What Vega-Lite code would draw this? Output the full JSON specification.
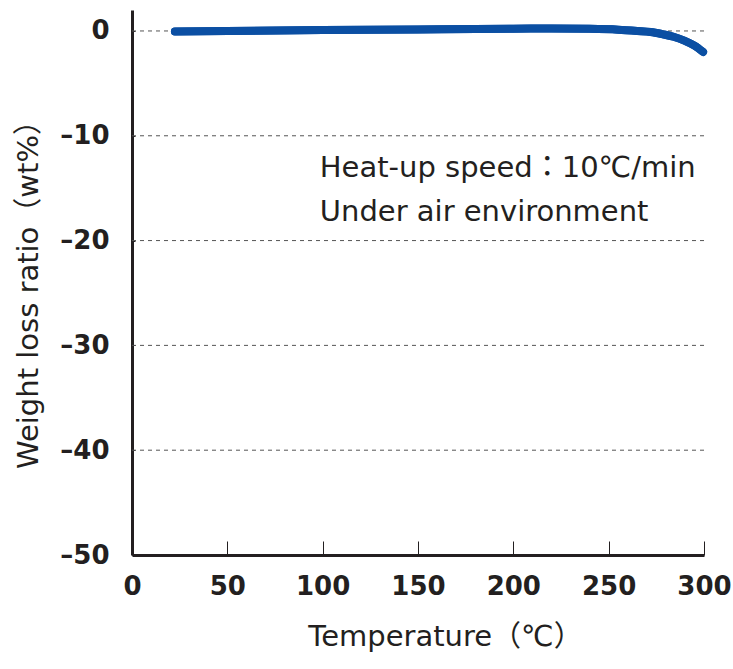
{
  "$schema": "https://vega.github.io/schema/vega-lite/v6.json",
  "width": 572,
  "height": 545,
  "autosize": {"type": "none"},
  "padding": {"left": 132, "top": 10, "right": 29, "bottom": 114},
  "background": "white",
  "config": {
    "view": {"stroke": null},
    "font": "DejaVu Sans"
  },
  "datasets": {
    "curve": [
      {"t": 22.5, "w": -0.05},
      {"t": 50, "w": 0.0},
      {"t": 100, "w": 0.08},
      {"t": 150, "w": 0.15},
      {"t": 200, "w": 0.22},
      {"t": 220, "w": 0.23},
      {"t": 240, "w": 0.2},
      {"t": 255, "w": 0.12},
      {"t": 265, "w": 0.0},
      {"t": 272, "w": -0.1},
      {"t": 278, "w": -0.3},
      {"t": 284, "w": -0.55},
      {"t": 290, "w": -0.95},
      {"t": 295, "w": -1.4},
      {"t": 299.5, "w": -2.0}
    ],
    "notes": [
      {"t": 98.5, "w": -13.1, "label": "Heat-up speed：10℃/min"},
      {"t": 98.5, "w": -17.3, "label": "Under air environment"}
    ]
  },
  "layer": [
    {
      "data": {"name": "curve"},
      "mark": {"type": "line", "color": "#0b4fa3", "strokeWidth": 8, "strokeCap": "round", "strokeJoin": "round", "interpolate": "monotone", "clip": false},
      "encoding": {
        "x": {
          "field": "t", "type": "quantitative",
          "scale": {"domain": [0, 300], "nice": false},
          "axis": {
            "values": [0, 50, 100, 150, 200, 250, 300],
            "title": "Temperature（℃）",
            "titleFont": "DejaVu Sans, Noto Sans CJK JP",
            "titleFontWeight": "normal",
            "titleFontSize": 29,
            "titleColor": "#231f20",
            "titleX": 313,
            "titleY": 81,
            "titleBaseline": "middle",
            "labelFont": "DejaVu Sans",
            "labelFontWeight": "bold",
            "labelFontSize": 26,
            "labelColor": "#231f20",
            "labelPadding": 32,
            "labelFlush": false,
            "domainColor": "#231f20",
            "domainWidth": 3,
            "tickColor": "#231f20",
            "tickWidth": 1,
            "tickSize": -14,
            "grid": false
          }
        },
        "y": {
          "field": "w", "type": "quantitative",
          "scale": {"domain": [-50, 2], "nice": false, "zero": false},
          "axis": {
            "values": [-50, -40, -30, -20, -10, 0],
            "labelExpr": "datum.value < 0 ? '–' + abs(datum.value) : datum.label",
            "title": "Weight loss ratio（wt%）",
            "titleFont": "DejaVu Sans, Noto Sans CJK JP",
            "titleFontWeight": "normal",
            "titleFontSize": 29,
            "titleColor": "#231f20",
            "titleX": -104,
            "titleY": 277,
            "titleBaseline": "middle",
            "labelFont": "DejaVu Sans",
            "labelFontWeight": "bold",
            "labelFontSize": 26,
            "labelColor": "#231f20",
            "labelPadding": 26,
            "labelFlush": false,
            "domainColor": "#231f20",
            "domainWidth": 3,
            "tickColor": "#231f20",
            "tickWidth": 1,
            "tickSize": -3,
            "grid": false
          }
        }
      }
    },
    {
      "data": {"values": [{"g": 0}, {"g": -10}, {"g": -20}, {"g": -30}, {"g": -40}]},
      "mark": {"type": "rule", "color": "#555555", "strokeWidth": 1, "strokeDash": [4, 4]},
      "encoding": {"y": {"field": "g", "type": "quantitative"}}
    },
    {
      "data": {"name": "curve"},
      "mark": {"type": "line", "color": "#0b4fa3", "strokeWidth": 8, "strokeCap": "round", "strokeJoin": "round", "interpolate": "monotone", "clip": false},
      "encoding": {
        "x": {"field": "t", "type": "quantitative"},
        "y": {"field": "w", "type": "quantitative"}
      }
    },
    {
      "data": {"name": "notes"},
      "mark": {"type": "text", "align": "left", "baseline": "middle", "fontSize": 29, "font": "DejaVu Sans, Noto Sans CJK JP", "color": "#231f20"},
      "encoding": {
        "x": {"field": "t", "type": "quantitative"},
        "y": {"field": "w", "type": "quantitative"},
        "text": {"field": "label"}
      }
    }
  ]
}
